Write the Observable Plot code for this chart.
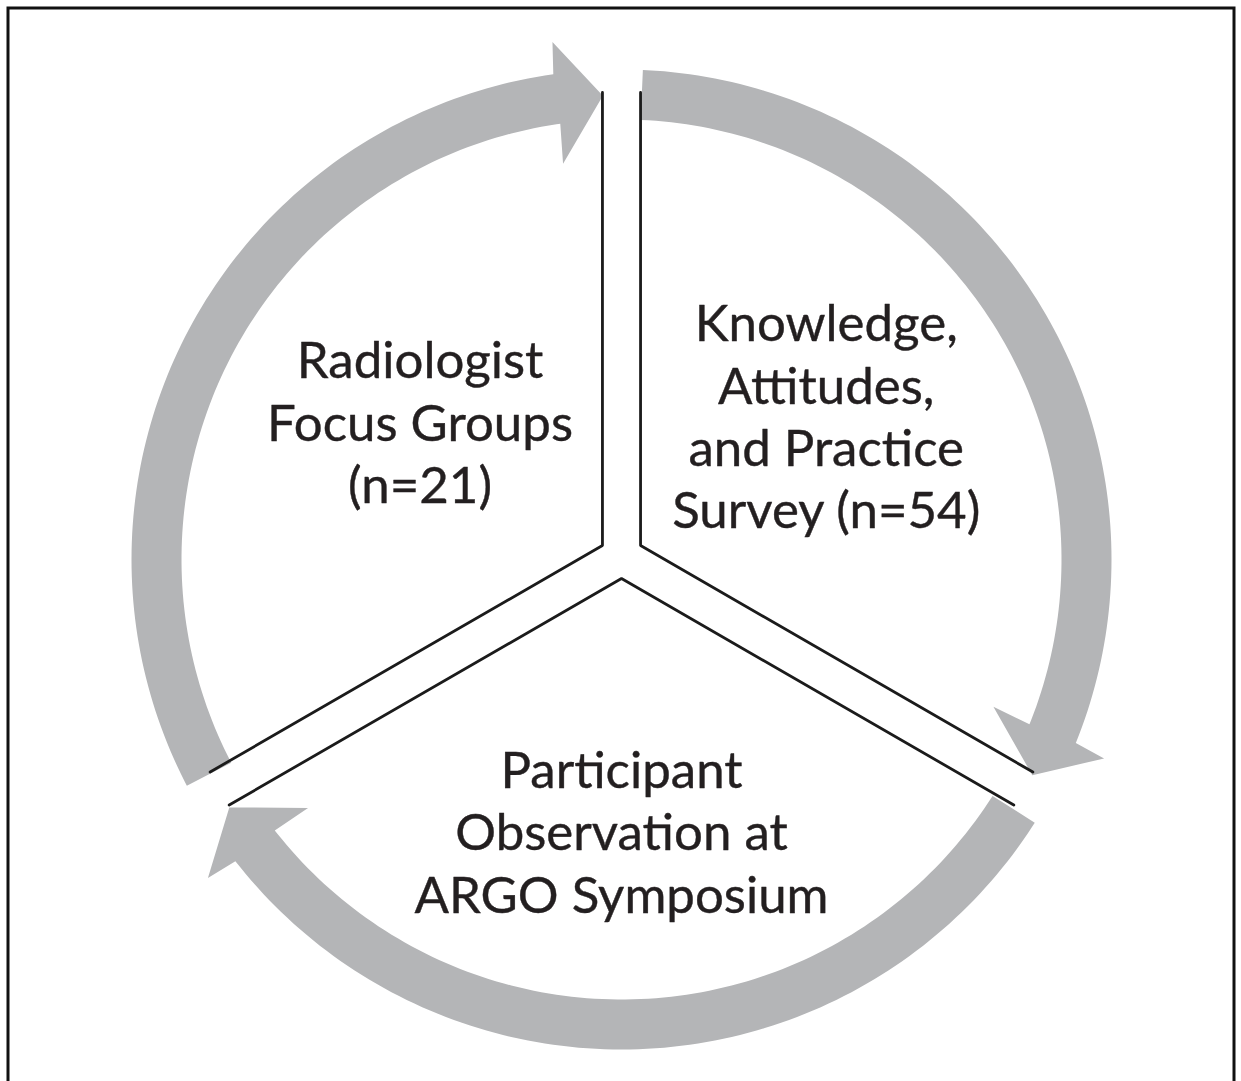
<!DOCTYPE html>
<html>
<head>
<meta charset="utf-8">
<script src="https://cdn.jsdelivr.net/npm/d3@7"></script>
<script src="https://cdn.jsdelivr.net/npm/@observablehq/plot@0.6"></script>
<style>
  html, body { margin: 0; padding: 0; background: #fff; }
  #chart svg { display: block; }
</style>
</head>
<body>
<div id="chart"></div>
<script>
// ---- Data ----
const stageLabels = [
  "Radiologist\nFocus Groups\n(n=21)",
  "Knowledge,\nAttitudes,\nand Practice\nSurvey (n=54)",
  "Participant\nObservation at\nARGO Symposium"
];
// sector boundaries as compass bearings (degrees, clockwise from top)
const sectorStart = [240, 0, 120];
const sectorEnd = [360, 120, 240];
// label placement (bearing, distance from hub)
const labelBearing = [304, 55.3, 180];
const labelDistance = [243, 249, 274];
// cycle arrows (bearing of tail, arrowhead base, arrowhead tip)
const arrowTail = [242.5, 2.5, 122.5];
const arrowHeadBase = [352.0, 112.0, 232.0];
const arrowTip = [357.7, 117.7, 237.7];

// ---- Geometry / style ----
const W = 1241, H = 1081;
const hub = {x: 621, y: 556};
const ringCenter = {x: 621, y: 559};
const rIn = 440, rOut = 490, rBarbIn = 400, rBarbOut = 522, rTip = 464;
const sectorGap = 22, sectorLen = 453;
const rad = d => d * Math.PI / 180;
const polar = (c, bearing, r) => ({x: c.x + r * Math.sin(rad(bearing)), y: c.y - r * Math.cos(rad(bearing))});

// arrows polygons
const arrowPts = [];
arrowTail.forEach((t, i) => {
  const hb = arrowHeadBase[i], tip = arrowTip[i];
  const pts = [];
  for (let a = t; a < hb; a += 1) pts.push(polar(ringCenter, a, rIn));
  pts.push(polar(ringCenter, hb, rIn));
  pts.push(polar(ringCenter, hb - 0.4, rBarbIn));
  pts.push(polar(ringCenter, tip, rTip));
  pts.push(polar(ringCenter, hb + 0.4, rBarbOut));
  pts.push(polar(ringCenter, hb, rOut));
  for (let a = hb; a > t; a -= 1) pts.push(polar(ringCenter, a, rOut));
  pts.push(polar(ringCenter, t, rOut));
  pts.push(polar(ringCenter, t, rIn));
  pts.forEach(p => arrowPts.push({...p, id: i}));
});

// sector outlines
const sectorPts = [];
sectorStart.forEach((s, i) => {
  const e = sectorEnd[i];
  const v = polar(hub, (s + e) / 2, sectorGap);
  [polar(v, e, sectorLen), v, polar(v, s, sectorLen)].forEach(p => sectorPts.push({...p, id: i}));
});

const labels = stageLabels.map((t, i) => ({text: t, ...polar(hub, labelBearing[i], labelDistance[i])}));

const chart = Plot.plot({
  width: W,
  height: H,
  margin: 0,
  x: {domain: [0, W], range: [0, W], axis: null},
  y: {domain: [0, H], range: [0, H], axis: null},
  style: {background: "#fff"},
  marks: [
    Plot.line(arrowPts, {x: "x", y: "y", z: "id", fill: "#b4b5b7", stroke: "none"}),
    Plot.line(sectorPts, {x: "x", y: "y", z: "id", stroke: "#1b1b1b", strokeWidth: 2.8, strokeLinejoin: "miter"}),
    Plot.text(labels, {x: "x", y: "y", text: "text", fontSize: 51, fontFamily: "Lato", lineHeight: 1.22, fill: "#231f20", stroke: "#231f20", strokeWidth: 0.4}),
    Plot.frame({stroke: "#111", strokeWidth: 3, insetLeft: 7.5, insetTop: 7.5, insetRight: 7.5, insetBottom: -1})
  ]
});
document.getElementById("chart").append(chart);
</script>
</body>
</html>
